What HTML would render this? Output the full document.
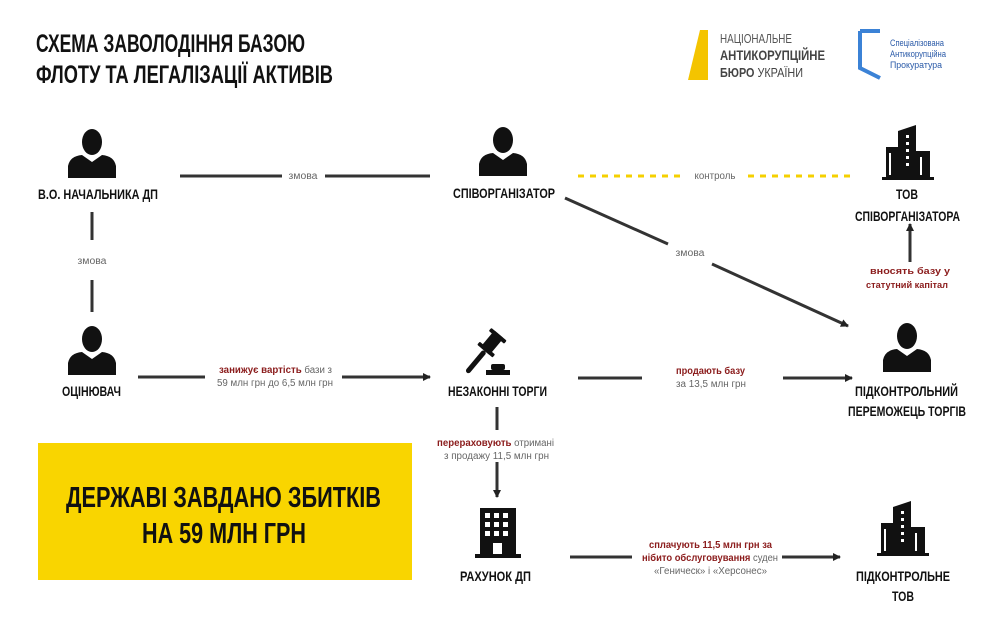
<!DOCTYPE html>
<html><head><meta charset="utf-8"><style>
html,body{margin:0;padding:0;background:#fff;}
svg{display:block}
.t{font-family:"Liberation Sans",sans-serif;font-weight:bold;fill:#111}
.s{font-family:"Liberation Sans",sans-serif;font-size:10px;fill:#666}
.r{fill:#8b1c1c;font-weight:bold}
</style></head><body>
<svg width="1000" height="621" viewBox="0 0 1000 621" xmlns="http://www.w3.org/2000/svg">
<defs>
<marker id="a" markerWidth="8" markerHeight="8" refX="7" refY="4" orient="auto" markerUnits="userSpaceOnUse"><path d="M0,0 L8,4 L0,8 z" fill="#222"/></marker>
<g id="p"><ellipse cx="0" cy="-16" rx="10" ry="13" fill="#111"/><path d="M-24,20 L-24,8 Q-22,-2 -10,-3 L0,4 L10,-3 Q22,-2 24,8 L24,20 z" fill="#111"/></g>
<g id="b"><path d="M-10,-22 L8,-28 L8,24 L-10,24 z" fill="#111"/><rect x="-22" y="-6" width="12" height="30" fill="#111"/><rect x="8" y="-2" width="14" height="26" fill="#111"/><rect x="-26" y="24" width="52" height="3" fill="#111"/><g fill="#fff"><rect x="-2" y="-18" width="3" height="3"/><rect x="-2" y="-11" width="3" height="3"/><rect x="-2" y="-4" width="3" height="3"/><rect x="-2" y="3" width="3" height="3"/><rect x="-2" y="10" width="3" height="3"/><rect x="-19" y="0" width="2" height="22"/><rect x="12" y="4" width="2" height="18"/></g></g>
</defs>
<text class="t" x="36" y="52" font-size="25" textLength="269" lengthAdjust="spacingAndGlyphs">СХЕМА ЗАВОЛОДІННЯ БАЗОЮ</text>
<text class="t" x="36" y="83" font-size="25" textLength="297" lengthAdjust="spacingAndGlyphs">ФЛОТУ ТА ЛЕГАЛІЗАЦІЇ АКТИВІВ</text>
<polygon points="700,30 708,30 708,80 688,80" fill="#f4c400"/>
<text class="t" x="720" y="43" font-size="13" style="font-weight:normal;fill:#555" textLength="72" lengthAdjust="spacingAndGlyphs">НАЦІОНАЛЬНЕ</text>
<text class="t" x="720" y="60" font-size="14" style="fill:#444" textLength="105" lengthAdjust="spacingAndGlyphs">АНТИКОРУПЦІЙНЕ</text>
<text class="t" x="720" y="77" font-size="13" style="fill:#444" textLength="83" lengthAdjust="spacingAndGlyphs">БЮРО <tspan style="font-weight:normal">УКРАЇНИ</tspan></text>
<path d="M860,31 L880,31 M860,31 L860,68 L880,78" stroke="#3b82d6" stroke-width="4" fill="none"/>
<text x="890" y="46" font-size="9" font-family="Liberation Sans" fill="#2a5aa8" textLength="54" lengthAdjust="spacingAndGlyphs">Спеціалізована</text>
<text x="890" y="57" font-size="9" font-family="Liberation Sans" fill="#2a5aa8" textLength="56" lengthAdjust="spacingAndGlyphs">Антикорупційна</text>
<text x="890" y="68" font-size="9" font-family="Liberation Sans" fill="#2a5aa8" textLength="52" lengthAdjust="spacingAndGlyphs">Прокуратура</text>
<use href="#p" x="92" y="158"/>
<text class="t" x="38" y="199" font-size="14" textLength="120" lengthAdjust="spacingAndGlyphs">В.О. НАЧАЛЬНИКА ДП</text>
<use href="#p" x="503" y="156"/>
<text class="t" x="453" y="198" font-size="14" textLength="102" lengthAdjust="spacingAndGlyphs">СПІВОРГАНІЗАТОР</text>
<use href="#b" x="908" y="153"/>
<text class="t" x="907" y="199" font-size="14" text-anchor="middle" textLength="22" lengthAdjust="spacingAndGlyphs">ТОВ</text>
<text class="t" x="855" y="221" font-size="14" textLength="105" lengthAdjust="spacingAndGlyphs">СПІВОРГАНІЗАТОРА</text>
<g stroke="#333" stroke-width="3">
<line x1="180" y1="176" x2="282" y2="176"/><line x1="325" y1="176" x2="430" y2="176"/>
<line x1="92" y1="212" x2="92" y2="240"/><line x1="92" y1="280" x2="92" y2="312"/>
<line x1="565" y1="198" x2="668" y2="244"/><line x1="712" y1="264" x2="848" y2="326" marker-end="url(#a)"/>
<line x1="910" y1="262" x2="910" y2="224" marker-end="url(#a)"/>
<line x1="138" y1="377" x2="205" y2="377"/><line x1="342" y1="377" x2="430" y2="377" marker-end="url(#a)"/>
<line x1="578" y1="378" x2="642" y2="378"/><line x1="783" y1="378" x2="852" y2="378" marker-end="url(#a)"/>
<line x1="497" y1="407" x2="497" y2="430"/><line x1="497" y1="462" x2="497" y2="497" marker-end="url(#a)"/>
<line x1="570" y1="557" x2="632" y2="557"/><line x1="782" y1="557" x2="840" y2="557" marker-end="url(#a)"/>
</g>
<line x1="578" y1="176" x2="680" y2="176" stroke="#f5d000" stroke-width="3" stroke-dasharray="6,6"/>
<line x1="748" y1="176" x2="855" y2="176" stroke="#f5d000" stroke-width="3" stroke-dasharray="6,6"/>
<text class="s" x="303" y="179" text-anchor="middle" textLength="29" lengthAdjust="spacingAndGlyphs">змова</text>
<text class="s" x="715" y="179" text-anchor="middle" textLength="41" lengthAdjust="spacingAndGlyphs">контроль</text>
<text class="s" x="92" y="264" text-anchor="middle" textLength="29" lengthAdjust="spacingAndGlyphs">змова</text>
<text class="s" x="690" y="256" text-anchor="middle" textLength="29" lengthAdjust="spacingAndGlyphs">змова</text>
<text class="s r" x="870" y="274" font-size="9" style="font-size:9px" textLength="80" lengthAdjust="spacingAndGlyphs">вносять базу у</text>
<text class="s r" x="866" y="288" style="font-size:9px" textLength="82" lengthAdjust="spacingAndGlyphs">статутний капітал</text>
<use href="#p" x="92" y="355"/>
<text class="t" x="62" y="396" font-size="14" textLength="59" lengthAdjust="spacingAndGlyphs">ОЦІНЮВАЧ</text>
<text class="s" x="219" y="373" textLength="113" lengthAdjust="spacingAndGlyphs"><tspan class="r">занижує вартість</tspan> бази з</text>
<text class="s" x="217" y="386" textLength="116" lengthAdjust="spacingAndGlyphs">59 млн грн до 6,5 млн грн</text>
<g fill="#111" transform="translate(490,345) rotate(40)">
<rect x="-6" y="-14" width="12" height="22" rx="1"/>
<rect x="-10" y="-14" width="20" height="4" rx="1"/>
<rect x="-10" y="4" width="20" height="4" rx="1"/>
<rect x="-2.5" y="8" width="5" height="28" rx="2.5"/>
</g>
<g fill="#111"><rect x="491" y="364" width="14" height="6" rx="2"/><rect x="486" y="370" width="24" height="5"/></g>
<text class="t" x="448" y="396" font-size="14" textLength="99" lengthAdjust="spacingAndGlyphs">НЕЗАКОННІ ТОРГИ</text>
<text class="s r" x="676" y="374" textLength="69" lengthAdjust="spacingAndGlyphs">продають базу</text>
<text class="s" x="676" y="387" textLength="70" lengthAdjust="spacingAndGlyphs">за 13,5 млн грн</text>
<use href="#p" x="907" y="352"/>
<text class="t" x="855" y="396" font-size="14" textLength="103" lengthAdjust="spacingAndGlyphs">ПІДКОНТРОЛЬНИЙ</text>
<text class="t" x="848" y="416" font-size="14" textLength="118" lengthAdjust="spacingAndGlyphs">ПЕРЕМОЖЕЦЬ ТОРГІВ</text>
<text class="s" x="437" y="446" textLength="117" lengthAdjust="spacingAndGlyphs"><tspan class="r">перераховують</tspan> отримані</text>
<text class="s" x="444" y="459" textLength="105" lengthAdjust="spacingAndGlyphs">з продажу 11,5 млн грн</text>
<rect x="38" y="443" width="374" height="137" fill="#f9d500"/>
<text class="t" x="66" y="507" font-size="29" textLength="315" lengthAdjust="spacingAndGlyphs">ДЕРЖАВІ ЗАВДАНО ЗБИТКІВ</text>
<text class="t" x="142" y="543" font-size="29" textLength="164" lengthAdjust="spacingAndGlyphs">НА 59 МЛН ГРН</text>
<g fill="#111"><rect x="480" y="508" width="36" height="46"/><rect x="475" y="554" width="46" height="4"/></g>
<g fill="#fff"><rect x="485" y="513" width="5" height="5"/><rect x="494" y="513" width="5" height="5"/><rect x="503" y="513" width="5" height="5"/><rect x="485" y="522" width="5" height="5"/><rect x="494" y="522" width="5" height="5"/><rect x="503" y="522" width="5" height="5"/><rect x="485" y="531" width="5" height="5"/><rect x="494" y="531" width="5" height="5"/><rect x="503" y="531" width="5" height="5"/><rect x="493" y="543" width="9" height="11"/></g>
<text class="t" x="460" y="581" font-size="14" textLength="71" lengthAdjust="spacingAndGlyphs">РАХУНОК ДП</text>
<text class="s r" x="649" y="548" textLength="123" lengthAdjust="spacingAndGlyphs">сплачують 11,5 млн грн за</text>
<text class="s" x="642" y="561" textLength="136" lengthAdjust="spacingAndGlyphs"><tspan class="r">нібито обслуговування</tspan> суден</text>
<text class="s" x="654" y="574" textLength="113" lengthAdjust="spacingAndGlyphs">«Геническ» і «Херсонес»</text>
<use href="#b" x="903" y="529"/>
<text class="t" x="856" y="581" font-size="14" textLength="94" lengthAdjust="spacingAndGlyphs">ПІДКОНТРОЛЬНЕ</text>
<text class="t" x="903" y="601" font-size="14" text-anchor="middle" textLength="22" lengthAdjust="spacingAndGlyphs">ТОВ</text>
</svg>
</body></html>
